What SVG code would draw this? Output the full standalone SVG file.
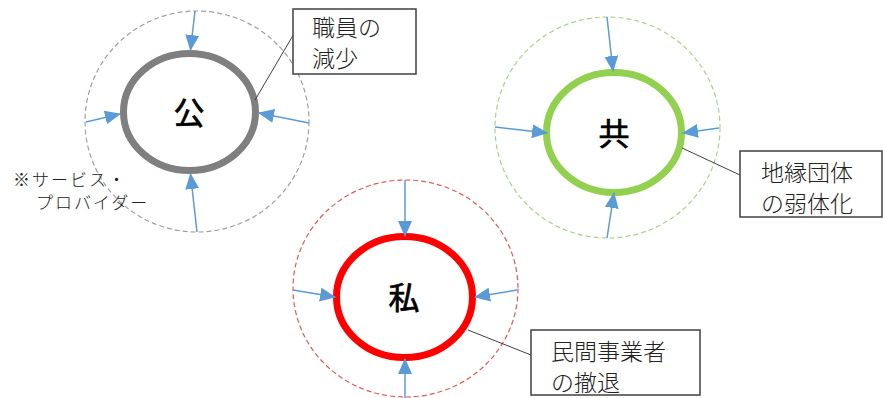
<svg xmlns="http://www.w3.org/2000/svg" width="883" height="398" viewBox="0 0 883 398">
<defs>
<marker id="ah" markerUnits="userSpaceOnUse" markerWidth="16" markerHeight="14" refX="15" refY="7" orient="auto">
<path d="M0,0 L16,7 L0,14 Z" fill="#5b9bd5"/>
</marker>
<style>
.ring{fill:#fff;stroke-width:7}
.dash{fill:none;stroke-width:1.2;stroke-dasharray:5 3}
.arr{stroke:#5b9bd5;stroke-width:1.5;fill:none;marker-end:url(#ah)}
.lead{stroke:#404040;stroke-width:1;fill:none}
.box{fill:#fff;stroke:#404040;stroke-width:1.5}
.t{font-family:"Noto Sans CJK JP","Noto Sans CJK SC",sans-serif;fill:#222}
.big{font-size:31px;text-anchor:middle;fill:#000;stroke:#000;stroke-width:0.7}
.lbl{font-size:23px;font-weight:300}
.note{font-size:17px;font-weight:300;letter-spacing:2px}
</style>
</defs>
<rect width="883" height="398" fill="#fff"/>

<g id="node-ko">
<ellipse class="dash" cx="197" cy="121.5" rx="112" ry="110.5" stroke="#a0a0a0"/>
<ellipse class="ring" cx="189.5" cy="112" rx="66" ry="58.5" stroke="#7f7f7f"/>
<text class="t big" x="189" y="124">公</text>
</g>

<g id="node-kyo">
<ellipse class="dash" cx="607.5" cy="127.5" rx="112.5" ry="110.5" stroke="#a9d18e"/>
<ellipse class="ring" cx="614" cy="132.5" rx="67.5" ry="60" stroke="#92d050"/>
<text class="t big" x="614" y="145">共</text>
</g>

<g id="node-shi">
<ellipse class="dash" cx="405.5" cy="288.5" rx="112.5" ry="108.5" stroke="#e05a5a"/>
<ellipse class="ring" cx="404.5" cy="297" rx="68" ry="60.5" stroke="#ff0000"/>
<text class="t big" x="404" y="309">私</text>
</g>

<g id="connectors">
<line class="arr" x1="195" y1="11" x2="190.5" y2="50"/>
<line class="arr" x1="86" y1="122" x2="120" y2="114"/>
<line class="arr" x1="309" y1="123" x2="259" y2="113"/>
<line class="arr" x1="197" y1="232" x2="190.5" y2="174"/>

<line class="arr" x1="607" y1="17" x2="613" y2="71"/>
<line class="arr" x1="495" y1="127" x2="547" y2="133"/>
<line class="arr" x1="719" y1="128" x2="683" y2="133"/>
<line class="arr" x1="607" y1="238" x2="614" y2="193"/>

<line class="arr" x1="405" y1="180" x2="405" y2="236"/>
<line class="arr" x1="293" y1="290" x2="335" y2="297"/>
<line class="arr" x1="517" y1="290" x2="475" y2="297"/>
<line class="arr" x1="405" y1="398" x2="405" y2="359"/>

<line class="lead" x1="295" y1="32" x2="255" y2="100"/>
<line class="lead" x1="682" y1="148" x2="740" y2="175"/>
<line class="lead" x1="468" y1="330" x2="531" y2="355"/>
</g>

<g id="callout-ko">
<rect class="box" x="293" y="9" width="123" height="65"/>
<text class="t lbl" x="312" y="36">職員の<tspan x="312" y="67">減少</tspan></text>
</g>

<g id="callout-kyo">
<rect class="box" x="740" y="151" width="142" height="66"/>
<text class="t lbl" x="761" y="181">地縁団体<tspan x="761" y="212">の弱体化</tspan></text>
</g>

<g id="callout-shi">
<rect class="box" x="531" y="330" width="169" height="65"/>
<text class="t lbl" x="551" y="360">民間事業者<tspan x="551" y="391">の撤退</tspan></text>
</g>

<g id="note">
<text class="t note" x="13" y="186">※サービス・<tspan x="36" y="209">プロバイダー</tspan></text>
</g>
</svg>
